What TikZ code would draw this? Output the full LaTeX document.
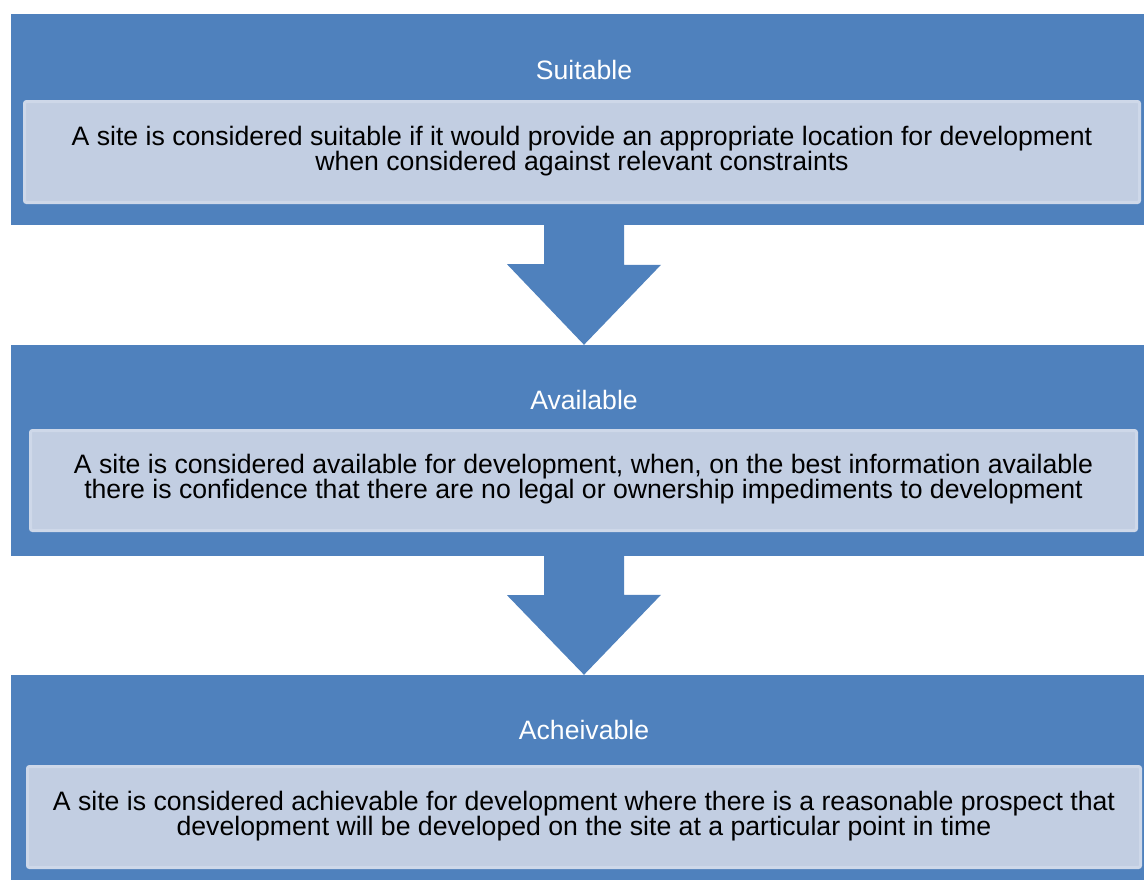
\documentclass[tikz,border=0pt]{standalone}
\usepackage{fontspec}
\setmainfont{Liberation Sans}
\usepackage{tikz}

\definecolor{stageblue}{RGB}{79,129,189}
\definecolor{notefill}{RGB}{194,206,226}
\definecolor{noteedge}{RGB}{206,216,233}

\tikzset{
  stagebox/.style={rectangle, fill=stageblue, draw=none, minimum width=1146pt, minimum height=211pt, inner sep=0pt},
  notebox/.style={rectangle, fill=notefill, draw=noteedge, line width=3pt, rounded corners=2pt, inner sep=0pt},
  stagetitle/.style={anchor=base, text=white, inner sep=0pt, font=\fontsize{26.6}{25}\selectfont},
  notetext/.style={align=center, inner sep=0pt, text=black, font=\fontsize{26.65}{25}\selectfont},
  flowarrow/.style={fill=stageblue, draw=none}
}

\begin{document}
\begin{tikzpicture}[x=1pt,y=1pt,yscale=-1]
\useasboundingbox (0,0) rectangle (1144,879);
\clip (0,0) rectangle (1144,879);

%Stage boxes
\node[stagebox] (suit) at (584,119.5) {};
\node[stagebox] (avail) at (584,450.5) {};
\node[stagebox] (achv) at (584,780.5) {};

%Inner note boxes
\node[notebox, minimum width=1115pt, minimum height=101pt] (suit-note) at (582,152) {};
\node[notebox, minimum width=1106pt, minimum height=100pt] (avail-note) at (583.5,480.5) {};
\node[notebox, minimum width=1113pt, minimum height=101pt] (achv-note) at (584,817) {};

% Titles
\node[stagetitle] (suit-title) at (584,79) {Suitable};
\node[stagetitle] (avail-title) at (584,409) {Available};
\node[stagetitle] (achv-title) at (584,739) {Acheivable};

% Text
\node[notetext] (suit-text) at ([yshift=-1pt]suit-note.center) {A site is considered suitable if it would provide an appropriate location for development\\when considered against relevant constraints};
\node[notetext] (avail-text) at ([yshift=-1pt]avail-note.center) {A site is considered available for development, when, on the best information available\\there is confidence that there are no legal or ownership impediments to development};
\node[notetext] (achv-text) at ([yshift=-1pt]achv-note.center) {A site is considered achievable for development where there is a reasonable prospect that\\development will be developed on the site at a particular point in time};

%Block arrows
\fill[flowarrow] ([xshift=-40pt]suit.south) -- ++(0,39) -- ++(-37,0) -- (avail.north) -- ++(77,-80) -- ++(-37,0) -- ([xshift=40pt]suit.south) -- cycle;
\fill[flowarrow] ([xshift=-40pt]avail.south) -- ++(0,39) -- ++(-37,0) -- (achv.north) -- ++(77,-80) -- ++(-37,0) -- ([xshift=40pt]avail.south) -- cycle;

\end{tikzpicture}
\end{document}
